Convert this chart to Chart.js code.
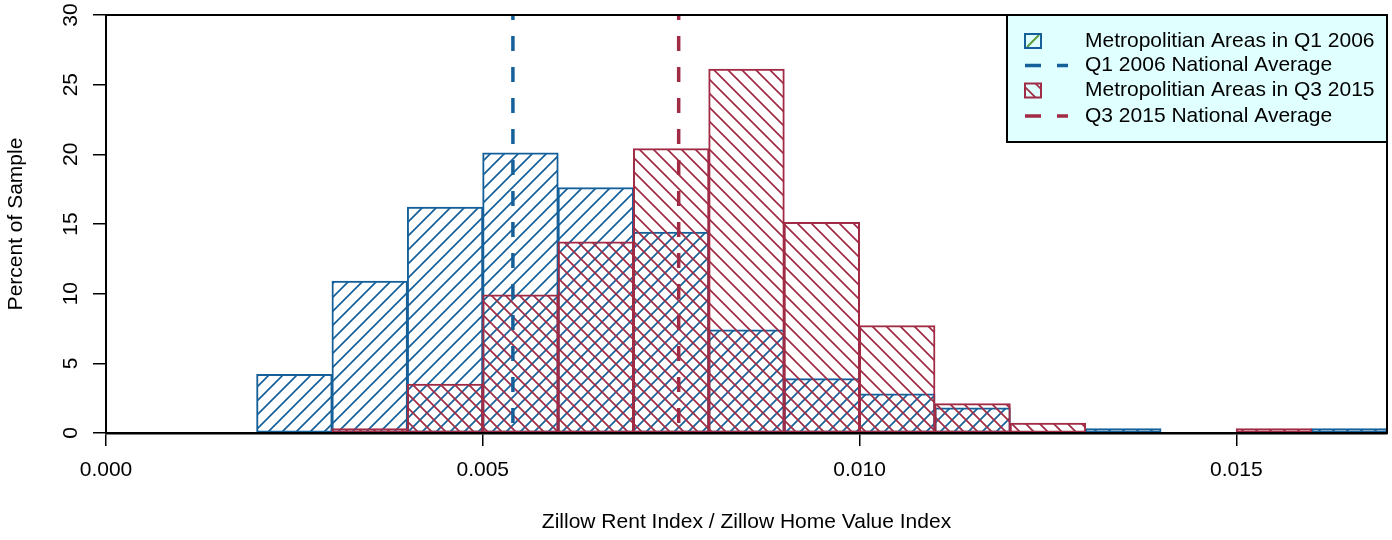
<!DOCTYPE html>
<html>
<head>
<meta charset="utf-8">
<script src="https://cdn.jsdelivr.net/npm/chart.js@4.4.1/dist/chart.umd.min.js"></script>
<style>
  html, body { margin: 0; padding: 0; background: #fff; }
  #wrap { width: 1392px; height: 540px; }
</style>
</head>
<body>
<div id="wrap"><canvas id="histChart"></canvas></div>
<script>
// histogram bins (width 0.001), value = percent of sample in that bin
const binCenters = [0.0005, 0.0015, 0.0025, 0.0035, 0.0045, 0.0055, 0.0065, 0.0075, 0.0085,
                    0.0095, 0.0105, 0.0115, 0.0125, 0.0135, 0.0145, 0.0155, 0.0165];
const q1_2006 = [null, null, 4.2, 10.9, 16.2, 20.1, 17.6, 14.4, 7.4, 3.9, 2.8, 1.8, null, 0.3, null, null, 0.3];
const q3_2015 = [null, null, null, 0.3, 3.5, 9.9, 13.7, 20.4, 26.1, 15.1, 7.7, 2.1, 0.7, null, null, 0.3, null];
// national averages (vertical dashed lines)
const avgQ1_2006 = 0.0054;
const avgQ3_2015 = 0.0076;
// tick labels
const xTicks = [0, 0.005, 0.010, 0.015];
const yTicks = [0, 5, 10, 15, 20, 25, 30];

const BLUE = '#16609a';
const RED = '#a12b45';
const FONT = '"Liberation Sans", Arial, Helvetica, sans-serif';
Chart.defaults.font.family = FONT;
Chart.defaults.color = '#000';

const canvas = document.getElementById('histChart');
const ctx = canvas.getContext('2d');

// diagonal line fill like R's density/angle shading
function hatch(color, dir) {
  const s = 14;
  const c = document.createElement('canvas');
  c.width = s; c.height = s;
  const g = c.getContext('2d');
  g.strokeStyle = color;
  g.lineWidth = 1.7;
  g.beginPath();
  if (dir > 0) {          // "/"
    g.moveTo(-2, s + 2); g.lineTo(s + 2, -2);
    g.moveTo(-2, 2); g.lineTo(2, -2);
    g.moveTo(s - 2, s + 2); g.lineTo(s + 2, s - 2);
  } else {                // "\"
    g.moveTo(-2, -2); g.lineTo(s + 2, s + 2);
    g.moveTo(s - 2, -2); g.lineTo(s + 2, 2);
    g.moveTo(-2, s - 2); g.lineTo(2, s + 2);
  }
  g.stroke();
  return ctx.createPattern(c, 'repeat');
}
const bluePattern = hatch(BLUE, 1);
const redPattern = hatch(RED, -1);

const legendRows = [
  { text: 'Metropolitian Areas in Q1 2006', kind: 'box', color: BLUE },
  { text: 'Q1 2006 National Average', kind: 'dash', color: BLUE },
  { text: 'Metropolitian Areas in Q3 2015', kind: 'box', color: RED },
  { text: 'Q3 2015 National Average', kind: 'dash', color: RED }
];

// rotated y labels, box around plot, legend in top right
const rStyle = {
  id: 'rStyle',
  afterDraw(chart) {
    const c = chart.ctx;
    const a = chart.chartArea;
    const y = chart.scales.y;
    c.save();
    c.font = '21px ' + FONT;
    c.fillStyle = '#000';
    c.textAlign = 'center';
    c.textBaseline = 'alphabetic';
    y.ticks.forEach(t => {
      c.save();
      c.translate(a.left - 29, y.getPixelForValue(t.value));
      c.rotate(-Math.PI / 2);
      c.fillText(String(t.value), 0, 0);
      c.restore();
    });

    c.strokeStyle = '#000';
    c.lineWidth = 2;
    c.strokeRect(a.left, a.top, a.right - a.left, a.bottom - a.top);

    // legend
    const lw = 380, lh = 127;
    const lx = a.right - lw, ly = a.top;
    c.fillStyle = '#e0ffff';
    c.fillRect(lx, ly, lw, lh);
    c.strokeRect(lx, ly, lw, lh);
    const rowY = [26, 50.5, 75.5, 101];
    legendRows.forEach((r, i) => {
      const cy = ly + rowY[i];
      if (r.kind === 'box') {
        const bx = lx + 18, by = cy - 7, bw = 16, bh = 14;
        c.save();
        c.beginPath();
        c.rect(bx, by, bw, bh);
        c.clip();
        if (r.color === BLUE) {
          c.strokeStyle = '#5b9b3c';
          c.lineWidth = 2;
          c.beginPath();
          c.moveTo(bx + 2, by + bh - 1);
          c.lineTo(bx + bw - 2, by + 1);
          c.stroke();
        } else {
          c.fillStyle = redPattern;
          c.fillRect(bx, by, bw, bh);
        }
        c.restore();
        c.strokeStyle = r.color;
        c.lineWidth = 2;
        c.strokeRect(bx, by, bw, bh);
      } else {
        c.save();
        c.strokeStyle = r.color;
        c.lineWidth = 3.5;
        c.setLineDash([16, 16]);
        c.beginPath();
        c.moveTo(lx + 18, cy);
        c.lineTo(lx + 61, cy);
        c.stroke();
        c.restore();
      }
      c.fillStyle = '#000';
      c.textAlign = 'left';
      c.textBaseline = 'middle';
      c.fillText(r.text, lx + 78, cy);
    });
    c.restore();
  }
};

new Chart(ctx, {
  type: 'bar',
  data: {
    datasets: [
      {
        type: 'line',
        label: 'Q1 2006 National Average',
        data: [{ x: avgQ1_2006, y: 30 }, { x: avgQ1_2006, y: 0 }],
        borderColor: BLUE,
        borderWidth: 3.5,
        borderDash: [15, 16],
        borderDashOffset: 10,
        pointRadius: 0,
        order: 0
      },
      {
        type: 'line',
        label: 'Q3 2015 National Average',
        data: [{ x: avgQ3_2015, y: 30 }, { x: avgQ3_2015, y: 0 }],
        borderColor: RED,
        borderWidth: 3.5,
        borderDash: [15, 16],
        borderDashOffset: 10,
        pointRadius: 0,
        order: 0
      },
      {
        label: 'Metropolitian Areas in Q3 2015',
        data: binCenters.map((x, i) => ({ x: x, y: q3_2015[i] })),
        backgroundColor: redPattern,
        borderColor: RED,
        borderWidth: 1,
        borderSkipped: false,
        inflateAmount: 0.5,
        barPercentage: 1,
        categoryPercentage: 1,
        grouped: false,
        order: 1
      },
      {
        label: 'Metropolitian Areas in Q1 2006',
        data: binCenters.map((x, i) => ({ x: x, y: q1_2006[i] })),
        backgroundColor: bluePattern,
        borderColor: BLUE,
        borderWidth: 1,
        borderSkipped: false,
        inflateAmount: 0.5,
        barPercentage: 1,
        categoryPercentage: 1,
        grouped: false,
        order: 2
      }
    ]
  },
  options: {
    responsive: true,
    maintainAspectRatio: false,
    animation: false,
    layout: { padding: { top: 15, right: 5, left: 0, bottom: 0 } },
    plugins: {
      legend: { display: false },
      tooltip: { enabled: false }
    },
    scales: {
      x: {
        type: 'linear',
        min: 0,
        max: 0.017,
        offset: false,
        afterBuildTicks: s => { s.ticks = xTicks.map(v => ({ value: v })); },
        afterFit: s => { s.height = 107; },
        border: { display: true, color: '#000', width: 2.5 },
        grid: { drawOnChartArea: false, drawTicks: true, tickLength: 13, color: '#000', lineWidth: 1.5, offset: false },
        ticks: { color: '#000', font: { size: 21 }, padding: 12, maxRotation: 0, callback: v => v.toFixed(3) },
        title: {
          display: true,
          text: 'Zillow Rent Index / Zillow Home Value Index',
          color: '#000',
          font: { size: 21 },
          padding: { top: 0, bottom: 5 }
        }
      },
      y: {
        min: 0,
        max: 30,
        afterBuildTicks: s => { s.ticks = yTicks.map(v => ({ value: v })); },
        afterFit: s => { s.width = 106; },
        border: { display: true, color: '#000', width: 2 },
        grid: { drawOnChartArea: false, drawTicks: true, tickLength: 13, color: '#000', lineWidth: 1.5 },
        ticks: { display: false },
        title: {
          display: true,
          text: 'Percent of Sample',
          color: '#000',
          font: { size: 21 },
          padding: { top: 4, bottom: 0 }
        }
      }
    }
  },
  plugins: [rStyle]
});
</script>
</body>
</html>
